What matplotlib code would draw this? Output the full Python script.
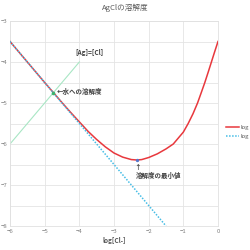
import matplotlib
matplotlib.use("Agg")
import matplotlib.pyplot as plt

plt.rcParams['font.family'] = ['Noto Sans CJK JP', 'DejaVu Sans']

# Total solubility curve
red_x = [-6, -5.5, -5, -4.5, -4.25, -4, -3.75, -3.5, -3.25, -3, -2.75, -2.5, -2.34, -2.2,
         -2, -1.75, -1.5, -1.29, -1.1, -1.0, -0.86, -0.72, -0.59, -0.48, -0.38, -0.28,
         -0.19, -0.1, 0]
red_y = [-3.50, -4.00, -4.50, -4.99, -5.23, -5.46, -5.69, -5.89, -6.07, -6.22, -6.32,
         -6.38, -6.39, -6.38, -6.33, -6.24, -6.12, -6.00, -5.81, -5.71, -5.50, -5.26,
         -5.00, -4.74, -4.50, -4.24, -4.00, -3.76, -3.50]
# log[Ag+] = logKsp - log[Cl-]
blue_x = [-6, -1.5]
blue_y = [-3.5, -8.0]
# [Ag]=[Cl]
green_x = [-6, -4]
green_y = [-6, -4]
water_pt = (-4.75, -4.75)
min_pt = (-2.34, -6.39)
legend_labels = ["log", "log"]
xticks = [-6, -5, -4, -3, -2, -1, 0]
yticks = [-3, -4, -5, -6, -7, -8]

fig = plt.figure(figsize=(2.5, 2.5), dpi=100)
ax = fig.add_axes([0.04, 0.096, 0.832, 0.82])

ax.set_xlim(-6, 0)
ax.set_ylim(-8, -3)
ax.set_xticks(xticks)
ax.set_yticks(yticks)
ax.set_yticks([-3.5, -4.5, -5.5, -6.5, -7.5], minor=True)
ax.grid(True, which='both', color='#e4e4e4', lw=0.6)
ax.set_axisbelow(True)
ax.tick_params(which='both', length=0, labelsize=4.3, labelcolor='#808080', pad=2)
for s in ax.spines.values():
    s.set_color('#e0e0e0')
    s.set_linewidth(0.6)

ax.plot(green_x, green_y, color='#a8e6c4', lw=0.8, zorder=2)
l1, = ax.plot(red_x, red_y, color='#e8383d', lw=1.1, zorder=3)
l2, = ax.plot(blue_x, blue_y, color='#45bde6', lw=1.1, ls=(0, (1, 1)), zorder=4)
ax.plot(*water_pt, 'o', color='#3cb371', ms=1.6, zorder=5)
ax.plot(*min_pt, 'o', color='#5577cc', ms=1.4, zorder=5)

bold = dict(fontsize=4.7, color='#404040', fontweight='bold')
ax.text(-3.71, -3.78, "[Ag]=[Cl]", ha='center', va='center', **bold)
ax.text(-4.65, -4.73, "←水への溶解度", ha='left', va='center', **bold)
ax.text(-2.32, -6.56, "↑", ha='center', va='center', **bold)
ax.text(-2.36, -6.77, "溶解度の最小値", ha='left', va='center', **bold)

fig.text(0.5, 0.968, "AgClの溶解度", ha='center', va='center', fontsize=5.5, color='#595959')
fig.text(0.456, 0.04, "log[Cl-]", ha='center', va='center', fontsize=4.7,
         color='#595959', fontweight='bold')

leg = fig.legend([l1, l2], legend_labels, loc='upper left',
                 bbox_to_anchor=(0.905, 0.5), frameon=False, fontsize=4.3,
                 handlelength=2.1, handletextpad=0.3, labelspacing=0.6,
                 borderaxespad=0, borderpad=0)
for t in leg.get_texts():
    t.set_color('#595959')

fig.savefig("out.png", dpi=100)
